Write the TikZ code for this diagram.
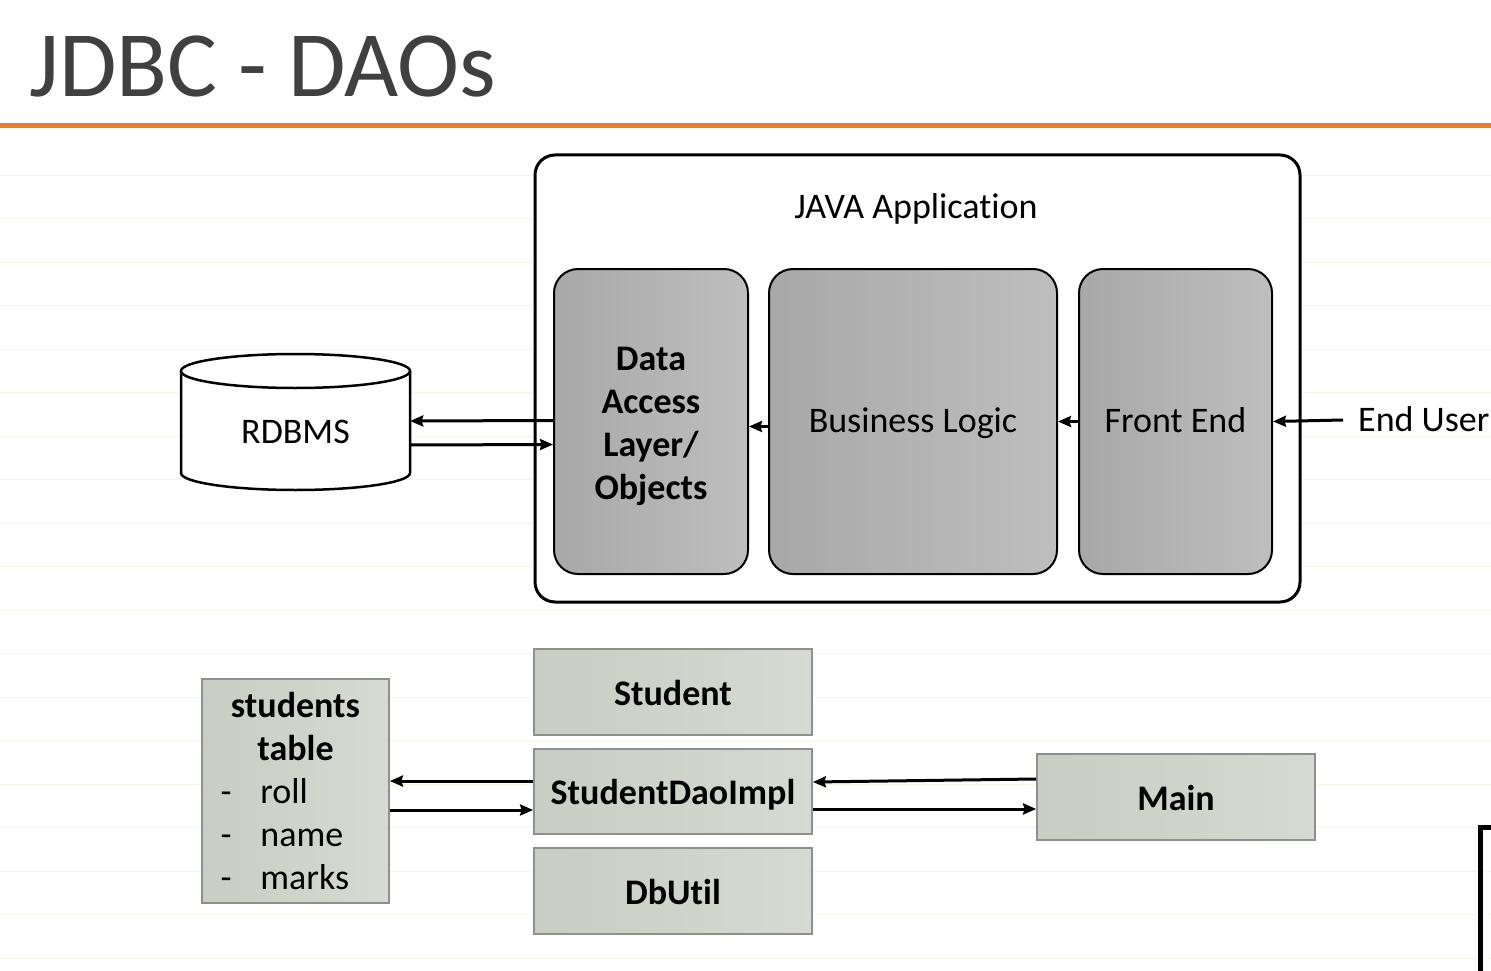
\documentclass[tikz,border=0pt]{standalone}
\usepackage{fontspec}
\setmainfont{Carlito}[Ligatures=NoCommon]
\usetikzlibrary{arrows.meta}

\begin{document}
\begin{tikzpicture}[x=1pt,y=-1pt,
  txt/.style={inner sep=0pt,font=\fontsize{36}{43}\selectfont},
  mid/.style={text height=26pt,text depth=4pt},
  layer/.style={txt,draw=black,line width=2pt,rounded corners=24pt,left color=grayA,right color=grayB,align=center,minimum height=305pt},
  cls/.style={txt,draw=boxline,line width=1.8pt,left color=greenA,right color=greenB,align=center},
  clsname/.style={cls,text height=30pt,text depth=4pt,minimum width=278pt,minimum height=86pt,font=\fontsize{36}{43}\selectfont\bfseries},
  arr/.style={line width=3pt,-{Stealth[length=13pt,width=11pt,inset=1.5pt]}}]
\definecolor{titlegray}{HTML}{404040}
\definecolor{orangebar}{HTML}{E8822A}
\definecolor{grayA}{HTML}{A8A8A8}
\definecolor{grayB}{HTML}{BEBEBE}
\definecolor{greenA}{HTML}{C8CEC3}
\definecolor{greenB}{HTML}{D6DAD2}
\definecolor{boxline}{HTML}{8E918B}
\definecolor{stripe}{HTML}{F7F5E8}
\useasboundingbox (0,0) rectangle (1491,971);
\fill[white] (0,0) rectangle (1491,971);
% faint ruled background
\foreach \yy in {175,218,262,305,349,392,436,479,523,566,610,653,697,740,784,827,871,914,958}
  {\draw[stripe,line width=1pt] (0,\yy) -- (1491,\yy);}
% title
\node[anchor=base west,inner sep=0pt,text=titlegray,font=\fontsize{93.5}{94}\selectfont] (title) at (29,97) {JDBC - DAOs};
\fill[orangebar] (0,123.5) rectangle (1491,128.5);

% JAVA application
\node[draw=black,line width=3pt,rounded corners=20pt,minimum width=765pt,minimum height=447pt,fill=white] (java) at (917.5,378.5) {};
\node[txt,mid] (javalbl) at (916,207) {JAVA Application};
\node[layer,minimum width=194pt,font=\fontsize{36}{43}\selectfont\bfseries] (dal) at (651,421.5) {\rule{0pt}{34pt}Data\\Access\\Layer/\\Objects};
\node[layer,mid,minimum width=288pt] (logic) at (913,421.5) {Business Logic};
\node[layer,mid,minimum width=193pt] (front) at (1175.5,421.5) {Front End};
\node[txt,mid,anchor=west,inner xsep=15pt] (user) at (1343,420) {End User};

% database
\node[txt,minimum width=229pt,minimum height=136pt] (rdbms) at (295.5,422) {};
\draw[line width=2.5pt,fill=white] (181,371) -- (181,473) arc[start angle=180,end angle=360,x radius=114.5pt,y radius=17pt] -- (410,371);
\draw[line width=2.5pt,fill=white] (295.5,371) ellipse[x radius=114.5pt,y radius=17pt];
\node[txt,mid] at (rdbms.center) [yshift=-10pt] {RDBMS};

\draw[arr] ([yshift=1pt]dal.west) -- ([yshift=1pt]rdbms.east);
\draw[arr] ([yshift=-23pt]rdbms.east) -- ([yshift=-23pt]dal.west);
\draw[arr] ([yshift=-5pt]logic.west) -- ([yshift=-5pt]dal.east);
\draw[arr] (front.west) -- (logic.east);
\draw[arr] (user.west) -- (front.east);

% classes
\node[cls,minimum width=187pt,minimum height=224pt] (table) at (295.5,791) {\textbf{students}\\\textbf{table}\\\makebox[150pt][l]{\makebox[40pt][l]{-}roll}\\\makebox[150pt][l]{\makebox[40pt][l]{-}name}\\\makebox[150pt][l]{\makebox[40pt][l]{-}marks}};
\node[clsname] (student) at (673,692) {Student};
\node[clsname,minimum height=85pt] (dao) at (673,791.5) {StudentDaoImpl};
\node[clsname] (dbutil) at (673,891) {DbUtil};
\node[clsname] (main) at (1176,797) {Main};

\draw[arr] ([yshift=10.5pt]dao.west) -- ([yshift=10pt]table.east);
\draw[arr] ([yshift=-19pt]table.east) -- ([yshift=-18.5pt]dao.west);
\draw[arr] ([yshift=18pt]main.west) -- ([yshift=9.5pt]dao.east);
\draw[arr] ([yshift=-17.5pt]dao.east) -- ([yshift=-12pt]main.west);

% cut-off shape at the lower right
\draw[line width=5pt] (1480,971) -- (1480,827) -- (1491,827);
\end{tikzpicture}
\end{document}
